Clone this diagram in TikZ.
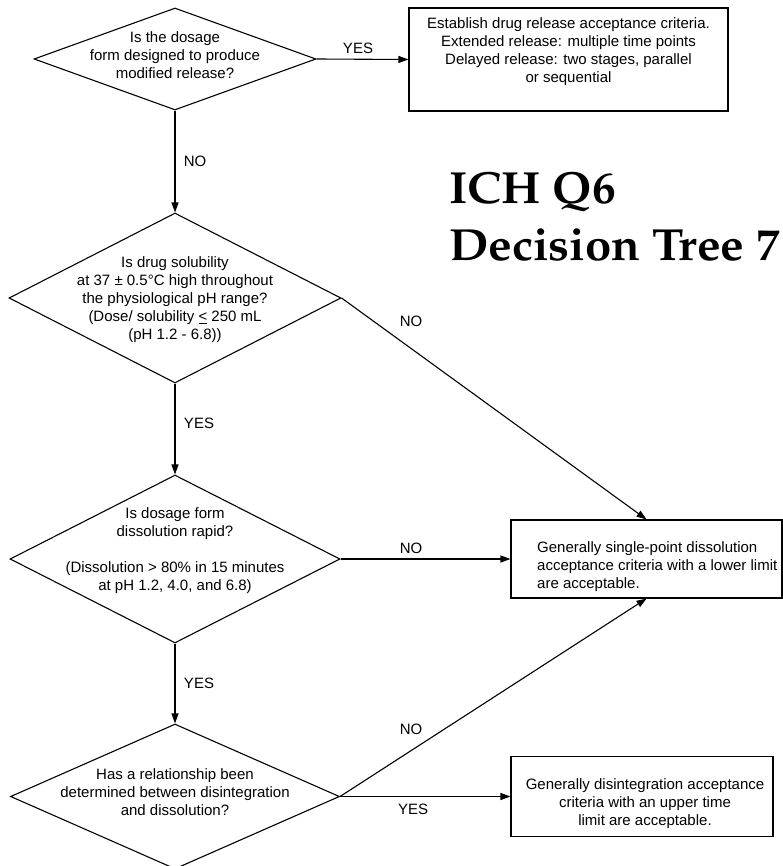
\documentclass[tikz,border=0pt]{standalone}
\usepackage[T1]{fontenc}
\usepackage{fontspec}
\setmainfont{Liberation Sans}
\usetikzlibrary{shapes.geometric,arrows.meta}
\newcommand\ichtitlefont{\fontencoding{T1}\fontfamily{ppl}\fontseries{b}\fontshape{n}\fontsize{45}{57}\selectfont}
\begin{document}
\begin{tikzpicture}[x=1pt,y=-1pt,
  dec/.style={diamond,draw,line width=1.1pt,inner sep=0pt},
  box/.style={rectangle,draw,line width=1.1pt,inner sep=0pt},
  txt/.style={font=\fontsize{15}{18}\selectfont,align=center,inner sep=0pt},
  lbl/.style={font=\fontsize{15}{18}\selectfont,inner sep=0pt},
  ttl/.style={font=\ichtitlefont,inner sep=0pt},
  arr/.style={line width=1.1pt,-{Triangle[length=10pt,width=7pt]}}]
\useasboundingbox (0,0) rectangle (783,866);

% decisions
\node[dec,minimum width=282,minimum height=102] (d1) at (175,59) {};
\node[txt] (d1t) at (175,55) {Is the dosage\\form designed to produce\\modified release?};

\node[dec,minimum width=332,minimum height=170] (d2) at (175,298) {};
\node[txt] (d2t) at (175,300) {Is drug solubility\\at 37 ± 0.5°C high throughout\\the physiological pH range?\\(Dose/ solubility \underline{<} 250 mL\\(pH 1.2 - 6.8))};

\node[dec,minimum width=330,minimum height=168] (d3) at (175,559) {};
\node[txt] (d3t) at (175,551) {Is dosage form\\dissolution rapid?\\[18pt](Dissolution > 80\% in 15 minutes\\at pH 1.2, 4.0, and 6.8)};

\node[dec,minimum width=329,minimum height=145] (d4) at (175,796.5) {};
\node[txt] (d4t) at (175,792) {Has a relationship been\\determined between disintegration\\and dissolution?};

% outcome boxes
\node[box,minimum width=319,minimum height=103] (b1) at (568.5,59.5) {};
\node[txt] (b1t) at (568.5,52) {Establish drug release acceptance criteria.\\Extended release: multiple time points\\Delayed release: two stages, parallel\\or sequential};

\node[box,minimum width=271,minimum height=78] (b2) at (646.5,559) {};
\node[txt,align=left,anchor=west] (b2t) at (537,567) {Generally single-point dissolution\\acceptance criteria with a lower limit\\are acceptable.};

\node[box,minimum width=262,minimum height=80] (b3) at (642,796.5) {};
\node[txt] (b3t) at (645,804) {Generally disintegration acceptance\\criteria with an upper time\\limit are acceptable.};

% title
\node[ttl,anchor=base west] (t1) at (449,204) {\scalebox{1.05}[1]{ICH Q6}};
\node[ttl,anchor=base west] (t2) at (449,261) {\scalebox{1.05}[1]{Decision Tree 7}};

% connectors
\draw[arr] (d1.east) -- (b1.west);
\draw[arr] (d1.south) -- (d2.north);
\draw[arr] (d2.east) -- (b2.north);
\draw[arr] (d2.south) -- (d3.north);
\draw[arr] (d3.east) -- (b2.west);
\draw[arr] (d3.south) -- (d4.north);
\draw[arr] (d4.east) -- (b2.south);
\draw[arr] (d4.east) -- (b3.west);

% labels
\node[lbl] (l1) at (358,48) {YES};
\node[lbl] (l2) at (195,161) {NO};
\node[lbl] (l3) at (411,321) {NO};
\node[lbl] (l4) at (199,423) {YES};
\node[lbl] (l5) at (411,548) {NO};
\node[lbl] (l6) at (199,683) {YES};
\node[lbl] (l7) at (411,729) {NO};
\node[lbl] (l8) at (413,809) {YES};
\end{tikzpicture}
\end{document}
